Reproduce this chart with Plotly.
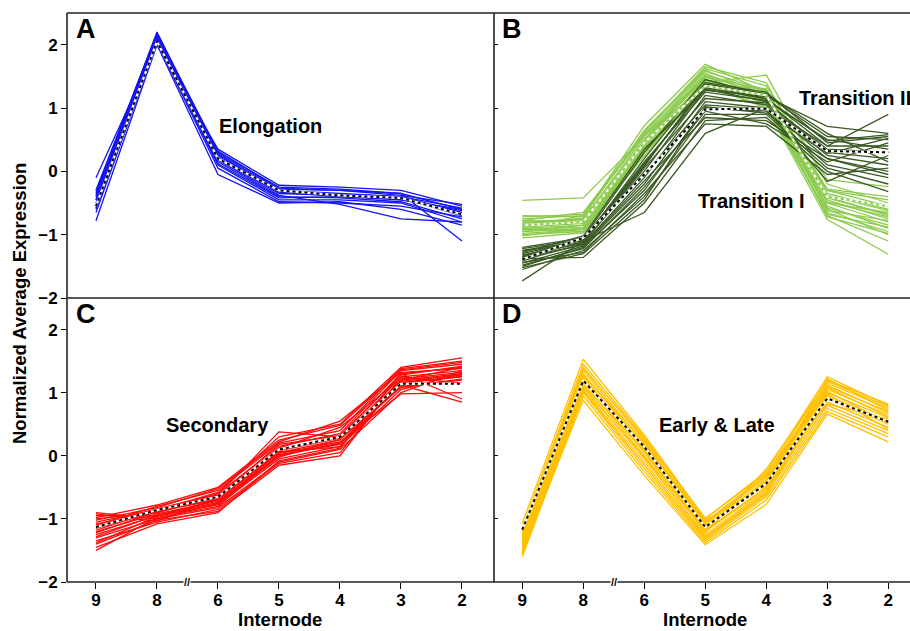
import plotly.graph_objects as go

W, H = 910, 631
internodes = ["9", "8", "6", "5", "4", "3", "2"]
xpos = list(range(len(internodes)))

elong_lines = [
    [-0.10, 2.00, 0.35, -0.22, -0.25, -0.30, -0.55],
    [-0.30, 2.18, 0.30, -0.25, -0.28, -0.35, -0.60],
    [-0.35, 2.20, 0.28, -0.28, -0.30, -0.38, -0.52],
    [-0.40, 2.15, 0.25, -0.30, -0.35, -0.40, -0.65],
    [-0.45, 2.12, 0.22, -0.33, -0.40, -0.42, -0.70],
    [-0.50, 2.10, 0.20, -0.35, -0.38, -0.45, -0.60],
    [-0.55, 2.08, 0.15, -0.40, -0.42, -0.48, -0.75],
    [-0.60, 2.05, 0.10, -0.45, -0.45, -0.50, -0.80],
    [-0.65, 2.03, 0.05, -0.48, -0.50, -0.55, -0.72],
    [-0.78, 2.00, -0.05, -0.50, -0.48, -0.60, -0.85],
    [-0.32, 2.17, 0.32, -0.27, -0.30, -0.35, -1.10],
    [-0.45, 2.10, 0.18, -0.38, -0.52, -0.75, -0.80],
    [-0.58, 2.06, 0.12, -0.42, -0.40, -0.45, -0.62],
    [-0.38, 2.14, 0.26, -0.32, -0.36, -0.40, -0.58],
]
elong_mean = [-0.55, 2.05, 0.20, -0.30, -0.38, -0.42, -0.68]

trans1_lines = [
    [-0.46, -0.42, 0.55, 1.45, 1.20, -0.30, -0.55],
    [-0.75, -0.70, 0.72, 1.69, 1.25, -0.50, -0.80],
    [-0.78, -0.65, 0.60, 1.60, 1.20, -0.40, -0.70],
    [-0.85, -0.80, 0.50, 1.55, 1.15, -0.55, -0.90],
    [-0.90, -0.85, 0.45, 1.50, 1.10, -0.60, -1.00],
    [-0.95, -0.90, 0.40, 1.45, 1.05, -0.65, -0.95],
    [-1.00, -0.95, 0.35, 1.40, 1.10, -0.70, -1.10],
    [-1.05, -0.97, 0.30, 1.35, 1.00, -0.76, -1.31],
    [-0.80, -0.75, 0.48, 1.40, 1.52, -0.20, -0.50],
    [-0.82, -0.78, 0.42, 1.38, 1.30, -0.35, -0.60],
    [-0.88, -0.82, 0.38, 1.30, 1.25, -0.45, -0.75],
    [-0.70, -0.72, 0.65, 1.62, 1.35, -0.13, -0.24],
    [-0.92, -0.88, 0.28, 1.32, 1.18, -0.50, -0.65],
    [-0.98, -0.92, 0.24, 1.35, 1.12, -0.58, -0.85],
    [-0.85, -0.76, 0.55, 1.58, 1.28, -0.62, -0.78],
    [-0.72, -0.68, 0.58, 1.50, 1.22, -0.28, -0.40],
    [-0.95, -0.85, 0.35, 1.42, 1.08, -0.48, -0.72],
    [-1.02, -0.90, 0.32, 1.36, 1.02, -0.68, -0.88],
    [-0.78, -0.80, 0.50, 1.48, 1.30, -0.38, -0.62],
    [-0.88, -0.70, 0.62, 1.65, 1.40, -0.42, -0.68],
    [-0.90, -0.95, 0.40, 1.44, 1.15, -0.72, -0.98],
    [-0.84, -0.74, 0.46, 1.52, 1.26, -0.30, -0.45],
]
trans1_mean = [-0.85, -0.80, 0.45, 1.35, 1.20, -0.40, -0.55]

trans2_lines = [
    [-1.20, -1.05, 0.30, 1.45, 1.20, 0.55, 0.50],
    [-1.25, -1.10, 0.20, 1.40, 1.25, 0.45, 0.55],
    [-1.30, -1.08, 0.10, 1.35, 1.15, 0.40, 0.40],
    [-1.35, -1.12, 0.00, 1.30, 1.10, 0.30, 0.20],
    [-1.40, -1.15, -0.10, 1.20, 1.05, 0.25, 0.10],
    [-1.45, -1.18, -0.20, 1.10, 1.00, 0.20, 0.00],
    [-1.50, -1.20, -0.30, 1.00, 0.95, 0.10, -0.10],
    [-1.55, -1.25, -0.40, 0.90, 0.90, 0.05, -0.20],
    [-1.73, -1.10, -0.65, 0.60, 1.00, 0.40, 0.90],
    [-1.38, -1.36, -0.50, 0.80, 0.85, 0.00, -0.32],
    [-1.28, -1.02, 0.35, 1.28, 1.18, 0.71, 0.60],
    [-1.32, -1.14, 0.05, 1.15, 1.08, 0.35, 0.30],
    [-1.42, -1.05, -0.05, 1.05, 0.98, -0.16, 0.25],
    [-1.22, -1.08, 0.15, 1.25, 1.12, 0.50, 0.35],
    [-1.48, -1.22, -0.25, 0.95, 0.75, 0.15, 0.45],
    [-1.36, -1.16, -0.15, 0.85, 0.80, 0.20, -0.05],
    [-1.26, -1.12, 0.08, 1.38, 1.22, 0.60, 0.15],
    [-1.44, -1.28, -0.35, 0.75, 0.71, -0.05, 0.05],
    [-1.34, -1.06, 0.12, 1.32, 1.14, 0.48, 0.58],
    [-1.52, -1.30, -0.45, 1.02, 0.92, 0.28, 0.52],
]
trans2_mean = [-1.39, -1.05, -0.05, 0.98, 0.99, 0.32, 0.30]

second_lines = [
    [-0.90, -1.00, -0.75, 0.00, 0.20, 1.20, 1.30],
    [-0.95, -0.95, -0.70, 0.05, 0.25, 1.25, 1.35],
    [-1.00, -0.90, -0.65, 0.10, 0.30, 1.30, 1.40],
    [-1.05, -0.85, -0.60, 0.15, 0.35, 1.35, 1.45],
    [-1.10, -0.80, -0.55, 0.20, 0.40, 1.38, 1.50],
    [-1.15, -0.88, -0.68, 0.08, 0.28, 1.15, 1.25],
    [-1.20, -0.92, -0.72, 0.00, 0.20, 1.10, 1.20],
    [-1.25, -0.95, -0.78, -0.05, 0.15, 1.05, 1.30],
    [-1.30, -1.00, -0.82, -0.10, 0.10, 1.00, 1.35],
    [-1.35, -1.05, -0.85, -0.12, 0.05, 1.20, 1.40],
    [-1.40, -1.02, -0.88, -0.15, 0.00, 1.25, 1.15],
    [-1.45, -1.08, -0.90, -0.08, 0.12, 1.30, 0.90],
    [-1.50, -0.98, -0.80, 0.02, 0.18, 1.12, 0.85],
    [-1.12, -0.84, -0.62, 0.38, 0.30, 1.18, 1.28],
    [-1.18, -0.86, -0.58, 0.30, 0.50, 1.40, 1.55],
    [-0.92, -1.04, -0.66, 0.12, 0.45, 1.22, 1.32],
    [-1.02, -0.82, -0.52, 0.22, 0.55, 1.32, 1.38],
    [-1.28, -0.94, -0.74, 0.04, 0.22, 0.98, 1.00],
    [-1.38, -0.96, -0.76, -0.02, 0.26, 1.08, 1.22],
    [-1.08, -0.90, -0.64, 0.18, 0.32, 1.28, 1.42],
    [-1.22, -0.88, -0.70, 0.06, 0.14, 1.16, 1.26],
    [-0.98, -0.78, -0.50, 0.25, 0.48, 1.36, 1.48],
]
second_mean = [-1.13, -0.86, -0.65, 0.10, 0.30, 1.14, 1.14]

earlylate_lines = [
    [-1.07, 1.53, 0.33, -1.00, -0.25, 1.25, 0.80],
    [-1.15, 1.45, 0.30, -1.05, -0.30, 1.20, 0.82],
    [-1.20, 1.40, 0.25, -1.08, -0.35, 1.15, 0.75],
    [-1.25, 1.35, 0.20, -1.10, -0.40, 1.10, 0.70],
    [-1.30, 1.30, 0.15, -1.12, -0.42, 1.05, 0.65],
    [-1.35, 1.25, 0.10, -1.15, -0.45, 1.00, 0.60],
    [-1.40, 1.20, 0.05, -1.18, -0.50, 0.95, 0.55],
    [-1.45, 1.15, 0.00, -1.20, -0.52, 0.90, 0.50],
    [-1.50, 1.10, -0.05, -1.25, -0.55, 0.85, 0.45],
    [-1.55, 1.05, -0.10, -1.30, -0.60, 0.80, 0.40],
    [-1.60, 1.00, -0.20, -1.35, -0.65, 0.75, 0.35],
    [-1.58, 0.95, -0.25, -1.38, -0.70, 0.70, 0.30],
    [-1.52, 0.88, -0.31, -1.41, -0.77, 0.66, 0.22],
    [-1.42, 1.12, 0.08, -1.22, -0.21, 1.18, 0.78],
    [-1.32, 1.22, 0.18, -1.02, -0.48, 1.22, 0.72],
    [-1.48, 1.08, -0.02, -1.28, -0.58, 1.08, 0.62],
    [-1.38, 1.18, 0.12, -1.16, -0.38, 1.12, 0.68],
    [-1.28, 1.28, 0.22, -1.06, -0.32, 0.82, 0.58],
    [-1.56, 1.02, -0.15, -1.32, -0.62, 0.98, 0.42],
    [-1.22, 1.38, 0.28, -0.99, -0.28, 1.02, 0.52],
]
earlylate_mean = [-1.17, 1.19, 0.14, -1.13, -0.44, 0.91, 0.54]

BLUE = "#1414F5"
LGREEN = "#8CCB4E"
DGREEN = "#3A5A24"
RED = "#FF0A0A"
YELLOW = "#FFC000"
FONT = "Liberation Sans"


def px(x):
    return x / W


def py(y):
    return 1 - y / H


fig = go.Figure()


def add_group(lines, color, xa, ya, width=1.3):
    for ln in lines:
        fig.add_trace(go.Scatter(x=xpos, y=ln, mode="lines", xaxis=xa, yaxis=ya,
                                 line=dict(color=color, width=width), hoverinfo="skip"))


def add_mean(vals, color, xa, ya):
    fig.add_trace(go.Scatter(x=xpos, y=vals, mode="lines", xaxis=xa, yaxis=ya,
                             line=dict(color="white", width=2.2), hoverinfo="skip"))
    fig.add_trace(go.Scatter(x=xpos, y=vals, mode="lines", xaxis=xa, yaxis=ya,
                             line=dict(color=color, width=2.0, dash="dot"), hoverinfo="skip"))


add_group(elong_lines, BLUE, "x", "y")
add_mean(elong_mean, "black", "x", "y")
add_group(trans1_lines, LGREEN, "x2", "y2")
add_group(trans2_lines, DGREEN, "x2", "y2")
add_mean(trans1_mean, LGREEN, "x2", "y2")
add_mean(trans2_mean, "black", "x2", "y2")
add_group(second_lines, RED, "x3", "y3")
add_mean(second_mean, "black", "x3", "y3")
add_group(earlylate_lines, YELLOW, "x4", "y4")
add_mean(earlylate_mean, "black", "x4", "y4")

L, MID, R = 67, 494, 910
T, HM, B = 13, 298, 582
dom_xl = [px(L), px(MID)]
dom_xr = [px(MID), 1.0]
dom_yt = [py(HM), py(T)]
dom_yb = [py(B), py(HM)]
xr_left = [-0.475, 6.525]
xr_right = [-0.464, 6.356]
yr = [-2, 2.5]
tickfont = dict(family=FONT, size=17, color="black", weight="bold")

xcommon = dict(tickvals=xpos, ticktext=internodes, showgrid=False, zeroline=False,
               tickfont=tickfont, ticks="outside", ticklen=6, tickwidth=1.2,
               tickcolor="black", showline=False, automargin=False, ticklabelstandoff=-3)
ycommon = dict(range=yr, tickvals=[-2, -1, 0, 1, 2], showgrid=False, zeroline=False,
               showline=False, tickwidth=1.2, tickcolor="black", automargin=False)

fig.update_layout(
    width=W, height=H, margin=dict(l=0, r=0, t=0, b=0, autoexpand=False),
    paper_bgcolor="white", plot_bgcolor="white", showlegend=False,
    xaxis=dict(domain=dom_xl, range=xr_left, anchor="y", **{**xcommon, "showticklabels": False, "ticks": ""}),
    yaxis=dict(domain=dom_yt, anchor="x", ticks="outside", ticklen=5, tickfont=tickfont, **ycommon),
    xaxis2=dict(domain=dom_xr, range=xr_right, anchor="y2", **{**xcommon, "showticklabels": False, "ticks": ""}),
    yaxis2=dict(domain=dom_yt, anchor="x2", ticks="inside", ticklen=4, showticklabels=False, **ycommon),
    xaxis3=dict(domain=dom_xl, range=xr_left, anchor="y3", **xcommon),
    yaxis3=dict(domain=dom_yb, anchor="x3", ticks="outside", ticklen=5, tickfont=tickfont, **ycommon),
    xaxis4=dict(domain=dom_xr, range=xr_right, anchor="y4", **xcommon),
    yaxis4=dict(domain=dom_yb, anchor="x4", ticks="inside", ticklen=4, showticklabels=False, **ycommon),
)

# frame lines
lw = 1.6
frame = [
    (px(L), py(T), 1.0, py(T)),
    (px(L), py(HM), 1.0, py(HM)),
    (px(L), py(B), 1.0, py(B)),
    (px(L), py(T), px(L), py(B)),
    (px(MID), py(T), px(MID), py(B)),
]
for x0, y0, x1, y1 in frame:
    fig.add_shape(type="line", xref="paper", yref="paper", x0=x0, y0=y0, x1=x1, y1=y1,
                  line=dict(color="#222", width=lw))

ann_font = dict(family=FONT, size=20, color="black", weight="bold")
letter_font = dict(family=FONT, size=27, color="black", weight="bold")
title_font = dict(family=FONT, size=18.5, color="black", weight="bold")

annotations = [
    dict(text="A", x=px(74), y=py(29), xanchor="left", yanchor="middle", font=letter_font),
    dict(text="B", x=px(500), y=py(29), xanchor="left", yanchor="middle", font=letter_font),
    dict(text="C", x=px(74), y=py(314), xanchor="left", yanchor="middle", font=letter_font),
    dict(text="D", x=px(500), y=py(314), xanchor="left", yanchor="middle", font=letter_font),
    dict(text="Elongation", x=px(270), y=py(126), xanchor="center", yanchor="middle", font=ann_font),
    dict(text="Transition II", x=px(797), y=py(98), xanchor="left", yanchor="middle", font=ann_font),
    dict(text="Transition I", x=px(751), y=py(201), xanchor="center", yanchor="middle", font=ann_font),
    dict(text="Secondary", x=px(217), y=py(425), xanchor="center", yanchor="middle", font=ann_font),
    dict(text="Early &amp; Late", x=px(717), y=py(425), xanchor="center", yanchor="middle", font=ann_font),
    dict(text="Internode", x=px(280), y=0, xanchor="center", yanchor="bottom", font=title_font,
         borderpad=0),
    dict(text="Internode", x=px(705), y=0, xanchor="center", yanchor="bottom", font=title_font,
         borderpad=0),
    dict(text="Normalized Average Expression", x=px(19), y=py(304), xanchor="center", yanchor="middle",
         textangle=-90, font=dict(family=FONT, size=18.5, color="black", weight="bold")),
]
for a in annotations:
    fig.add_annotation(xref="paper", yref="paper", showarrow=False, **a)

# axis break marks
for xa in ["x3", "x4"]:
    fig.add_annotation(x=1.5, xref=xa, y=py(B), yref="paper", text="//", showarrow=False,
                       xanchor="center", yanchor="middle",
                       font=dict(family=FONT, size=11, color="black", weight="bold"),
                       bgcolor="white", borderpad=0)

fig.write_html("out.html")
